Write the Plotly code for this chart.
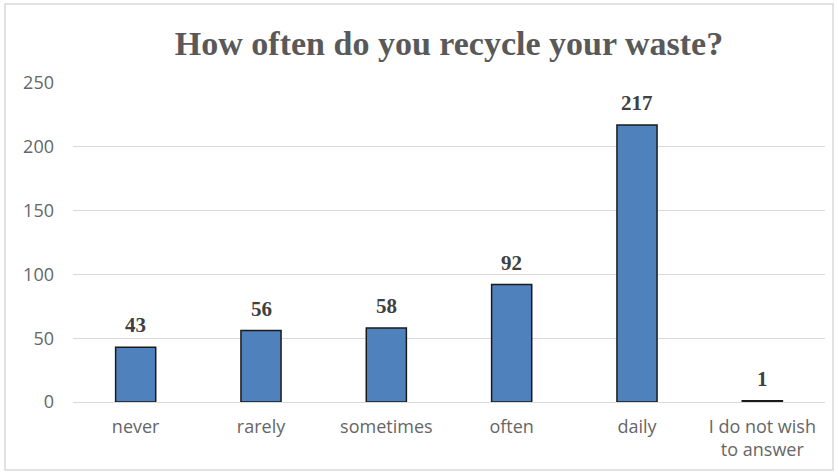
import plotly.graph_objects as go

categories = ["never", "rarely", "sometimes", "often", "daily", "I do not wish<br>to answer"]
values = [43, 56, 58, 92, 217, 1]
y_ticks = [0, 50, 100, 150, 200, 250]

W, H = 838, 474
L, R, T, B = 73, 13, 83, 72
pw, ph = W - L - R, H - T - B

def px_to_paper_x(px):
    return (px - L) / pw

def px_to_paper_y(py):
    return (H - B - py) / ph

fig = go.Figure(go.Bar(
    x=categories, y=values,
    width=0.32,
    marker=dict(color="#4F81BD", line=dict(color="#1a1a1a", width=1.5)),
    cliponaxis=False,
))

annotations = [
    dict(x=c, y=v, xref="x", yref="y", text=f"<b>{v}</b>", showarrow=False,
         yanchor="middle", yshift=22,
         font=dict(family="Liberation Serif", size=21, color="#404040"))
    for c, v in zip(categories, values)
]

fig.update_layout(
    width=W, height=H,
    margin=dict(l=L, r=R, t=T, b=B),
    paper_bgcolor="white", plot_bgcolor="white",
    title=dict(text="<b>How often do you recycle your waste?</b>",
               xref="paper", x=0.5, xanchor="center", y=1 - 43 / H, yanchor="middle",
               font=dict(family="Liberation Serif", size=34, color="#595959")),
    xaxis=dict(showgrid=False, showline=False, ticks="", ticklabelstandoff=12,
               tickfont=dict(family="Open Sans", size=18, color="#666666")),
    yaxis=dict(range=[0, 250], tickvals=y_ticks, showgrid=True, gridcolor="#d9d9d9",
               gridwidth=1, zeroline=True, zerolinecolor="#d9d9d9", zerolinewidth=1,
               ticks="", ticklabelstandoff=18,
               tickfont=dict(family="Open Sans", size=18, color="#666666")),
    showlegend=False,
    annotations=annotations,
    shapes=[dict(type="rect", xref="paper", yref="paper",
                 x0=px_to_paper_x(5), x1=px_to_paper_x(833),
                 y0=px_to_paper_y(470), y1=px_to_paper_y(4),
                 line=dict(color="#d9d9d9", width=1.5), fillcolor="rgba(0,0,0,0)",
                 layer="below")],
)

fig.write_html("out.html")
